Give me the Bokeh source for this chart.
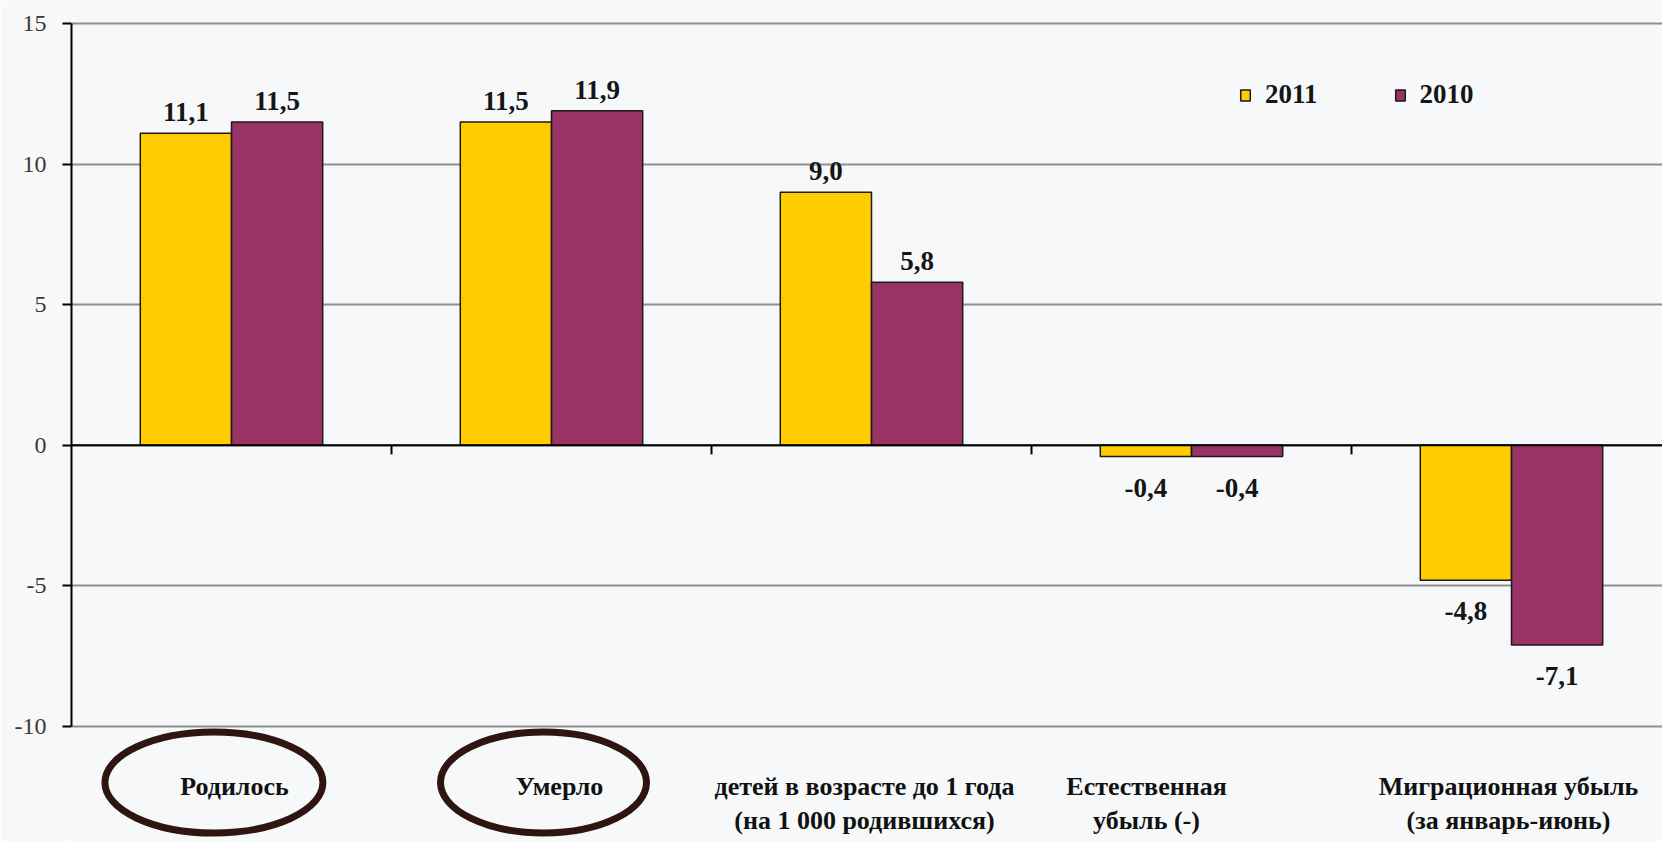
from bokeh.plotting import figure
from bokeh.models import ColumnDataSource, Range1d, FixedTicker, Span, Legend, LegendItem
from bokeh.core.properties import value
from bokeh.embed import file_html
from bokeh.resources import INLINE

# ---- data ----
categories = [
    "Родилось",
    "Умерло",
    "детей в возрасте до 1 года\n(на 1 000 родившихся)",
    "Естественная\nубыль (-)",
    "Миграционная убыль\n(за январь-июнь)",
]
series_names = ["2011", "2010"]
values_2011 = [11.1, 11.5, 9.0, -0.4, -4.8]
values_2010 = [11.5, 11.9, 5.8, -0.4, -7.1]
y_ticks = [-10, -5, 0, 5, 10, 15]
circled = ["Родилось", "Умерло"]

# ---- style ----
SERIF = "Liberation Serif"
YELLOW = "#FFCC00"
PURPLE = "#993366"
BAR_W = 0.285
PX_PER_UNIT = 28.12
CAT_PX = 320
Y_MIN, Y_MAX = y_ticks[0], y_ticks[-1]
label_x_offsets = [3, 8, -7, -45, -3]

n = len(categories)
xc = [i + 0.5 for i in range(n)]

W, H = 1662, 841
LEFT, TOP = 71, 23
p = figure(
    width=W, height=H,
    x_range=Range1d(0, (W - LEFT) / CAT_PX),
    y_range=Range1d(Y_MIN - (H - 726) / PX_PER_UNIT, Y_MAX + TOP / PX_PER_UNIT),
    output_backend="svg", toolbar_location=None,
    min_border_left=LEFT, min_border_right=0, min_border_top=0, min_border_bottom=0,
    background_fill_color="#f6f8f9", border_fill_color="#f6f8f9",
)
p.outline_line_color = None
p.xaxis.visible = False
p.xgrid.visible = False

# y axis
p.yaxis.ticker = FixedTicker(ticks=y_ticks)
p.yaxis.major_label_overrides = {t: str(t) for t in y_ticks}
p.yaxis.bounds = (Y_MIN, Y_MAX)
p.yaxis.axis_line_color = "black"
p.yaxis.axis_line_width = 2
p.yaxis.major_tick_line_color = "black"
p.yaxis.major_tick_line_width = 2
p.yaxis.major_tick_out = 9
p.yaxis.major_tick_in = 0
p.yaxis.minor_tick_line_color = None
p.yaxis.major_label_text_font = SERIF
p.yaxis.major_label_text_font_size = "24px"
p.yaxis.major_label_text_color = "#3a3a3a"
p.yaxis.major_label_standoff = 16

p.ygrid.ticker = FixedTicker(ticks=y_ticks)
p.ygrid.bounds = (Y_MIN, Y_MAX)
p.ygrid.grid_line_color = "#8e8e8e"
p.ygrid.grid_line_width = 2

# bars
renderers = []
for k, (name, vals, col) in enumerate(zip(series_names, [values_2011, values_2010], [YELLOW, PURPLE])):
    off = (-0.5 + k) * BAR_W
    src = ColumnDataSource(dict(
        x=[c + off for c in xc],
        top=vals,
        label=[f"{v:.1f}".replace(".", ",") for v in vals],
        yoff=[-21 if v >= 0 else 31 for v in vals],
    ))
    r = p.vbar(x="x", top="top", bottom=0, width=BAR_W, source=src,
               fill_color=col, line_color="#1a1a1a", line_width=1.5)
    renderers.append(r)
    p.text(x="x", y="top", text="label", y_offset="yoff", source=src,
           text_align="center", text_baseline="middle",
           text_font=value(SERIF), text_font_style="bold",
           text_font_size="27px", text_color="#151515")

# zero line with boundary ticks
p.add_layout(Span(location=0, dimension="width", line_color="black", line_width=2))
bounds_x = list(range(1, n))
p.segment(x0=bounds_x, y0=[0] * len(bounds_x), x1=bounds_x,
          y1=[-9 / PX_PER_UNIT] * len(bounds_x), line_color="black", line_width=2)

# category labels
p.text(x=xc, y=[Y_MIN] * n, text=categories, y_offset=[45] * n, x_offset=label_x_offsets,
       text_align="center", text_baseline="top", text_line_height=1.2,
       text_font=value(SERIF), text_font_style="bold",
       text_font_size="26px", text_color="#111111")

# ellipses around highlighted categories
ell_x = [xc[categories.index(c)] + d for c, d in zip(circled, [-0.055, -0.025])]
p.ellipse(x=ell_x, y=[Y_MIN - 56 / PX_PER_UNIT] * len(ell_x),
          width=[218 / CAT_PX, 206 / CAT_PX], height=[101 / PX_PER_UNIT] * len(ell_x),
          fill_color=None, line_color="#2e1510", line_width=7)

# legend
legend = Legend(
    items=[LegendItem(label=nm, renderers=[r]) for nm, r in zip(series_names, renderers)],
    orientation="horizontal", location=(1168, H - 110),
    glyph_width=12, glyph_height=14, label_standoff=14, spacing=76,
    label_text_font=SERIF, label_text_font_style="bold", label_text_font_size="27px",
    label_text_color="#151515",
    background_fill_alpha=0, border_line_alpha=0, padding=0, margin=0,
)
p.add_layout(legend)

open("out.html", "w").write(file_html(p, INLINE))
